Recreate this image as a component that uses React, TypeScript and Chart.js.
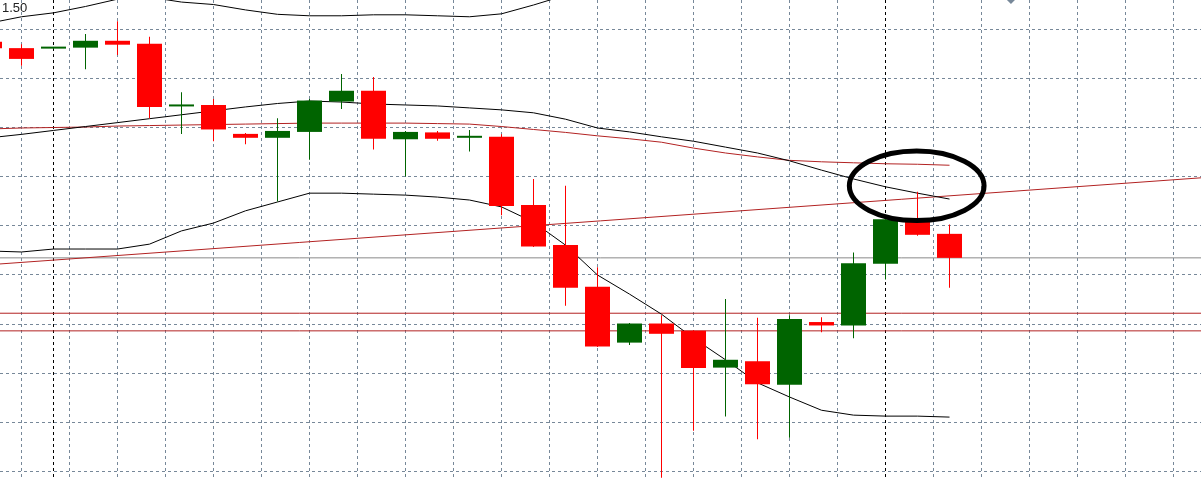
import { useEffect, useRef } from 'react';
import Chart from 'chart.js/auto';

// bar position on the time axis (-1 is the half-hidden bar on the left edge)
const barIndex = [-1, 0, 1, 2, 3, 4, 5, 6, 7, 8, 9, 10, 11, 12, 13, 14, 15, 16, 17, 18, 19, 20, 21, 22, 23, 24, 25, 26, 27, 28, 29];

const opens = [1.50376, 1.50363, 1.50362, 1.50364, 1.50378, 1.50372, 1.50244, 1.50247, 1.50188, 1.5018, 1.50192, 1.50254, 1.50276, 1.50177, 1.50191, 1.5018, 1.50182, 1.50043, 1.49961, 1.49876, 1.49762, 1.49801, 1.49786, 1.49711, 1.49724, 1.49676, 1.49804, 1.49797, 1.49923, 1.50016, 1.49984];
const highs = [1.5038, 1.50371, 1.50365, 1.50392, 1.50418, 1.50386, 1.50273, 1.50259, 1.5019, 1.5022, 1.50259, 1.5031, 1.50304, 1.50194, 1.50194, 1.50196, 1.50187, 1.50096, 1.50082, 1.49916, 1.49802, 1.49818, 1.49787, 1.49851, 1.49813, 1.49818, 1.49814, 1.49946, 1.50014, 1.5007, 1.50003];
const lows = [1.50361, 1.50327, 1.50361, 1.5032, 1.50349, 1.5022, 1.50188, 1.50173, 1.50167, 1.5005, 1.50135, 1.50239, 1.50156, 1.50101, 1.50174, 1.50152, 1.50022, 1.49957, 1.49837, 1.49753, 1.49757, 1.49486, 1.49582, 1.49611, 1.49565, 1.49568, 1.49783, 1.49771, 1.49891, 1.4998, 1.49874];
const closes = [1.50363, 1.50341, 1.50364, 1.50378, 1.5037, 1.50243, 1.50247, 1.50197, 1.5018, 1.50194, 1.50256, 1.50276, 1.50178, 1.50192, 1.50178, 1.50183, 1.50041, 1.49958, 1.49874, 1.49754, 1.49801, 1.4978, 1.4971, 1.49727, 1.49677, 1.4981, 1.49797, 1.49924, 1.50014, 1.49982, 1.49935];

// Bollinger bands (black) and moving average (red)
const bandUpper = [1.50414, 1.50427, 1.50435, 1.50448, 1.50463, 1.50467, 1.50457, 1.50452, 1.50441, 1.50432, 1.50429, 1.50429, 1.50431, 1.50431, 1.50429, 1.50427, 1.50433, 1.50451, 1.50471, 1.50498, 1.50518, 1.50539, 1.50559, 1.50573, 1.50588, 1.50604, 1.50614, 1.50624, 1.5062, 1.50614, 1.50604];
const bandMiddle = [1.5018, 1.50187, 1.50195, 1.50203, 1.50211, 1.50219, 1.50227, 1.50235, 1.50243, 1.5025, 1.50255, 1.50253, 1.50249, 1.50247, 1.50245, 1.50241, 1.50237, 1.50231, 1.50218, 1.502, 1.50192, 1.50182, 1.50173, 1.50161, 1.50149, 1.50133, 1.50114, 1.50096, 1.5008, 1.50067, 1.50055];
const bandLower = [1.49949, 1.49947, 1.49953, 1.49953, 1.49953, 1.49963, 1.4999, 1.50006, 1.50031, 1.50049, 1.50067, 1.50067, 1.50065, 1.50063, 1.50059, 1.50053, 1.50039, 1.50008, 1.49961, 1.499, 1.49861, 1.4982, 1.49771, 1.49727, 1.4968, 1.49651, 1.49624, 1.49614, 1.49612, 1.49612, 1.4961];
const maRed = [1.50198, 1.502, 1.50201, 1.50202, 1.50204, 1.50205, 1.50206, 1.50207, 1.50208, 1.50209, 1.5021, 1.5021, 1.5021, 1.5021, 1.50209, 1.50208, 1.50203, 1.50197, 1.50191, 1.50184, 1.50178, 1.50171, 1.50159, 1.50149, 1.50141, 1.50134, 1.50131, 1.50129, 1.50127, 1.50126, 1.50124];

// drawn objects
const trendX = [-1, 37];
const trendY = [1.49921, 1.50099];
const levelPrices = [1.49822, 1.49786];
const bidPrice = 1.49935;
const ellipseX = [25.87, 30.08];
const ellipseY = [1.50153, 1.50011];

// grid
const gridX = [0, 1.5, 3, 4.5, 6, 7.5, 9, 10.5, 12, 13.5, 15, 16.5, 18, 19.5, 21, 22.5, 24, 25.5, 28.5, 30, 31.5, 33, 34.5, 36];
const separatorX = [1, 27];
const gridY = [1.495, 1.496, 1.497, 1.498, 1.499, 1.5, 1.501, 1.502, 1.503, 1.504];

const UP = '#006400';
const DOWN = '#ff0000';
const GRID = '#778899';
const LINE_RED = '#b22222';

const candleColors = opens.map((o, i) => (closes[i] >= o ? UP : DOWN));
const series = (values: number[]) => values.map((v, i) => ({ x: barIndex[i], y: v }));
const level = (price: number) => [{ x: -1, y: price }, { x: 37, y: price }];

const overlayPlugin = {
  id: 'overlay',
  afterDatasetsDraw(chart: any) {
    const { ctx, scales } = chart;
    const xs = scales.x;
    const ys = scales.y;
    ctx.save();
    const l = xs.getPixelForValue(ellipseX[0]);
    const r = xs.getPixelForValue(ellipseX[1]);
    const t = ys.getPixelForValue(ellipseY[0]);
    const b = ys.getPixelForValue(ellipseY[1]);
    ctx.beginPath();
    ctx.ellipse((l + r) / 2, (t + b) / 2, (r - l) / 2, (b - t) / 2, 0, 0, Math.PI * 2);
    ctx.lineWidth = 5;
    ctx.strokeStyle = '#000';
    ctx.stroke();

    ctx.fillStyle = '#222';
    ctx.font = '13px "Liberation Sans", Arial, sans-serif';
    ctx.textBaseline = 'alphabetic';
    ctx.fillText('1.50', 2, 12);

    // chart shift marker
    const mx = xs.getPixelForValue(30.92);
    ctx.beginPath();
    ctx.moveTo(mx - 4, 0);
    ctx.lineTo(mx + 4, 0);
    ctx.lineTo(mx, 4);
    ctx.closePath();
    ctx.fillStyle = GRID;
    ctx.fill();
    ctx.restore();
  },
};

export default function App() {
  const canvasRef = useRef<HTMLCanvasElement | null>(null);
  const chartRef = useRef<Chart | null>(null);

  useEffect(() => {
    document.body.style.margin = '0';
    if (!canvasRef.current) return;
    if (chartRef.current) chartRef.current.destroy();

    const lineDs = (label: string, data: any[], color: string) => ({
      type: 'line' as const,
      label,
      data,
      borderColor: color,
      borderWidth: 1,
      pointRadius: 0,
      tension: 0,
      fill: false,
      order: 5,
    });

    chartRef.current = new Chart(canvasRef.current, {
      type: 'line',
      data: {
        datasets: [
          {
            type: 'bar',
            label: 'bodies',
            data: barIndex.map((x, i) => ({ x, y: [opens[i], closes[i]] })),
            backgroundColor: candleColors,
            barThickness: 25,
            minBarLength: 2,
            grouped: false,
            inflateAmount: 0,
            order: 1,
          } as any,
          {
            type: 'bar',
            label: 'wicks',
            data: barIndex.map((x, i) => ({ x, y: [lows[i], highs[i]] })),
            backgroundColor: candleColors,
            barThickness: 1,
            grouped: false,
            inflateAmount: 0,
            order: 2,
          } as any,
          lineDs('upper', series(bandUpper), '#000'),
          lineDs('middle', series(bandMiddle), '#000'),
          lineDs('lower', series(bandLower), '#000'),
          lineDs('ma', series(maRed), LINE_RED),
          lineDs('trend', trendX.map((x, i) => ({ x, y: trendY[i] })), LINE_RED),
          lineDs('level 1', level(levelPrices[0]), LINE_RED),
          lineDs('level 2', level(levelPrices[1]), LINE_RED),
          lineDs('bid', level(bidPrice), '#8a8a8a'),
        ],
      },
      options: {
        animation: false,
        responsive: false,
        devicePixelRatio: 1,
        events: [],
        layout: { padding: 0 },
        plugins: { legend: { display: false }, tooltip: { enabled: false } },
        scales: {
          x: {
            type: 'linear',
            min: -0.671875,
            max: 36.859375,
            offset: false,
            ticks: { display: false },
            grid: {
              offset: false,
              drawTicks: false,
              color: (c: any) => (separatorX.includes(c.tick?.value) ? '#000' : GRID),
            },
            border: { display: false, dash: [3, 3] },
            afterBuildTicks: (s: any) => {
              s.ticks = [...gridX, ...separatorX].sort((a, b) => a - b).map((value) => ({ value }));
            },
          },
          y: {
            type: 'linear',
            min: 1.49481633,
            max: 1.50461224,
            ticks: { display: false },
            grid: { drawTicks: false, color: GRID },
            border: { display: false, dash: [3, 3] },
            afterBuildTicks: (s: any) => {
              s.ticks = gridY.map((value) => ({ value }));
            },
          },
        },
      },
      plugins: [overlayPlugin],
    });

    return () => {
      if (chartRef.current) {
        chartRef.current.destroy();
        chartRef.current = null;
      }
    };
  }, []);

  return <canvas ref={canvasRef} width={1201} height={480} style={{ display: 'block', width: 1201, height: 480 }} />;
}
